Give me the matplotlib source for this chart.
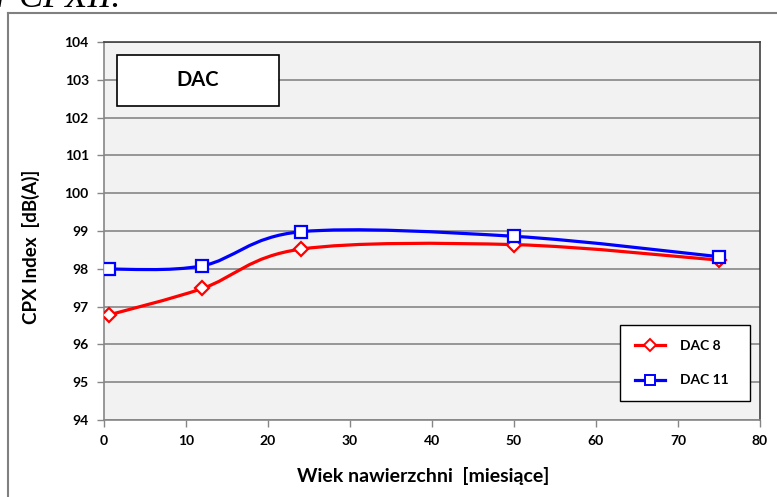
import numpy as np
import matplotlib
matplotlib.use("Agg")
import matplotlib.pyplot as plt
from matplotlib.path import Path
from matplotlib.patches import PathPatch, Rectangle
from matplotlib.lines import Line2D

# --- dane z wykresu ---
wiek = [0.6, 12, 24, 50, 75]
dac8 = [96.78, 97.48, 98.52, 98.64, 98.23]
dac11 = [97.99, 98.08, 98.98, 98.86, 98.32]
y_ticks = [94, 95, 96, 97, 98, 99, 100, 101, 102, 103, 104]
x_ticks = [0, 10, 20, 30, 40, 50, 60, 70, 80]

plt.rcParams['font.family'] = ['Lato', 'DejaVu Sans']
plt.rcParams['font.weight'] = 'bold'


def gladka_linia(xs, ys):
    # wygladzanie jak w Excelu (krzywe Beziera, Catmull-Rom)
    p = np.column_stack([xs, ys]).astype(float)
    n = len(p)
    verts = [p[0]]
    codes = [Path.MOVETO]
    for i in range(n - 1):
        p0 = p[i - 1] if i > 0 else p[i]
        p3 = p[i + 2] if i + 2 < n else p[i + 1]
        c1 = p[i] + (p[i + 1] - p0) / 6
        c2 = p[i + 1] - (p3 - p[i]) / 6
        verts += [c1, c2, p[i + 1]]
        codes += [Path.CURVE4] * 3
    return Path(verts, codes)


fig = plt.figure(figsize=(7.77, 4.97), dpi=100, facecolor='white')
W, H = 777, 497
ax = fig.add_axes([104 / W, 1 - 420 / H, (760 - 104) / W, (420 - 42) / H])
ax.set_facecolor('#f2f2f2')

# ramka zewnetrzna (widoczna tylko gora i lewa strona)
fig.add_artist(Line2D([8 / W, 776 / W], [1 - 13 / H, 1 - 13 / H], color='#808080', lw=1.5))
fig.add_artist(Line2D([8 / W, 8 / W], [1 - 13 / H, 0], color='#808080', lw=1.5))
fig.text(-0.005, 1 - 7 / H, 'r CPXII.', fontsize=26, family='Liberation Serif',
         style='italic', weight='normal', va='baseline', ha='left')

ax.set_xlim(0, 80)
ax.set_ylim(94, 104)
ax.set_xticks(x_ticks)
ax.set_yticks(y_ticks)
ax.grid(axis='y', color='#868686', lw=1.2)
ax.set_axisbelow(True)
ax.tick_params(axis='both', direction='out', length=5, width=1, color='#868686',
               labelsize=10, pad=6)

for s in ['left', 'bottom']:
    ax.spines[s].set_color('#868686')
    ax.spines[s].set_linewidth(1.2)
for s in ['top', 'right']:
    ax.spines[s].set_color('#404040')
    ax.spines[s].set_linewidth(1.2)

for xs, ys, kol, mk, lab in [(wiek, dac8, 'red', 'D', 'DAC 8'),
                             (wiek, dac11, '#0000ff', 's', 'DAC 11')]:
    ax.add_patch(PathPatch(gladka_linia(xs, ys), fill=False, edgecolor=kol,
                           lw=2.3, zorder=3, capstyle='round'))
    ax.plot(xs, ys, ls='none', marker=mk, ms=8 if mk == 's' else 7.5,
            mfc='white', mec=kol, mew=1.6, zorder=4)

uchwyty = [Line2D([], [], color='red', lw=2.3, marker='D', ms=6, mfc='white', mec='red', mew=1.4),
           Line2D([], [], color='#0000ff', lw=2.3, marker='s', ms=7, mfc='white', mec='#0000ff', mew=1.4)]
lx0 = (620 - 104) / 656
lw_ = 130 / 656
ltop = (420 - 325) / 378
leg = ax.legend(uchwyty, ['DAC 8', 'DAC 11'], loc='upper left',
                bbox_to_anchor=(lx0, ltop - 0.2, lw_, 0.2), mode='expand',
                frameon=True, fancybox=False, edgecolor='black', framealpha=1,
                fontsize=10, handlelength=2.2, handletextpad=1.1,
                labelspacing=1.65, borderpad=1.05, borderaxespad=0)
leg.get_frame().set_linewidth(1.0)
leg.set_zorder(5)

# pole z tytulem
ax.add_patch(Rectangle((13 / 656, 1 - 106 / 378 + 42 / 378), 162 / 656, 51 / 378,
                       transform=ax.transAxes, facecolor='white', edgecolor='black',
                       lw=1.2, zorder=5))
ax.text((13 + 81) / 656, 1 - (80.5 - 42) / 378, 'DAC', transform=ax.transAxes,
        ha='center', va='center', fontsize=14.5, weight='bold', zorder=6)

ax.set_xlabel('Wiek nawierzchni  [miesiące]', fontsize=14, weight='bold')
ax.set_ylabel('CPX Index  [dB(A)]', fontsize=13.5, weight='bold')
ax.xaxis.set_label_coords((423 - 104) / 656, -(467 - 420) / 378)
ax.yaxis.set_label_coords(-(104 - 40) / 656, 1 - (247 - 42) / 378)

fig.savefig('out.png', dpi=100)
